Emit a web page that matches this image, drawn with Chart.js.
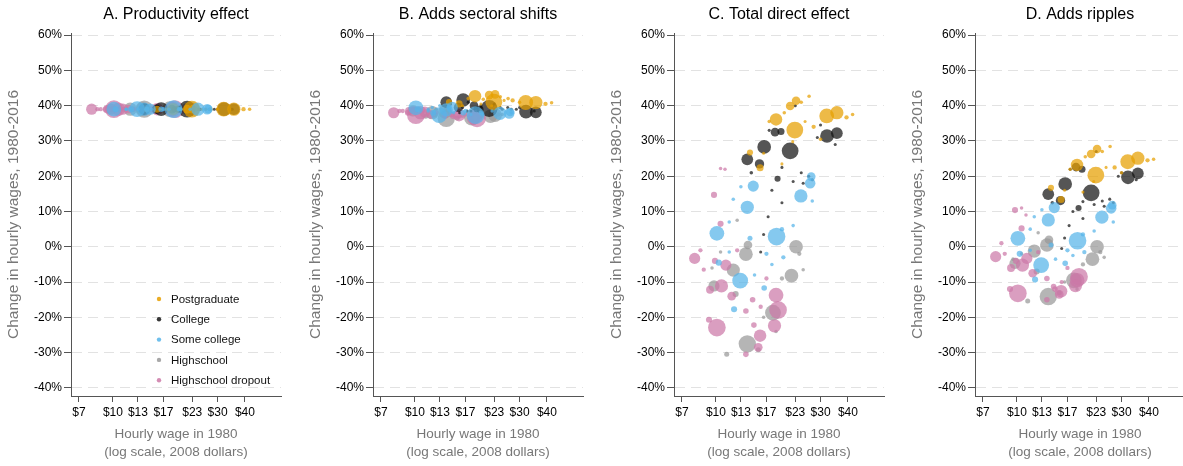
<!DOCTYPE html>
<html>
<head>
<meta charset="utf-8">
<title>Wage changes by education and wage</title>
<script src="https://cdn.jsdelivr.net/npm/chart.js@4.4.0/dist/chart.umd.min.js"></script>
<style>
  html, body { margin: 0; padding: 0; background: #fff; overflow: hidden; }
  #wrap { position: relative; width: 1183px; height: 466px; overflow: hidden; }
  .panel { position: absolute; top: 0; width: 302px; height: 466px; }
</style>
</head>
<body>
<div id="wrap">
  <div class="panel" style="left:0px"><canvas id="panelA" width="302" height="466"></canvas></div>
  <div class="panel" style="left:302px"><canvas id="panelB" width="302" height="466"></canvas></div>
  <div class="panel" style="left:603px"><canvas id="panelC" width="302" height="466"></canvas></div>
  <div class="panel" style="left:904px"><canvas id="panelD" width="302" height="466"></canvas></div>
</div>
<script>
// axis ticks
var wageTicks = [7, 10, 13, 17, 23, 30, 40];
var pctTicks = [-40, -30, -20, -10, 0, 10, 20, 30, 40, 50, 60];

var panelTitles = ["A. Productivity effect", "B. Adds sectoral shifts", "C. Total direct effect", "D. Adds ripples"];

// Postgraduate
var postWage = [22.9, 18.8, 21.8, 23.2, 32.0, 35.6, 39.4, 26.6, 15.9, 14.3, 27.9, 24.5, 20.5, 22.4, 17.5, 30.0, 42.0, 25.5, 16.5, 20.0];
var postEmp  = [45, 25, 12, 12, 35, 28, 3, 2, 8, 6, 3, 2, 2, 1.5, 2, 2, 2, 1.5, 1.5, 1.5];
var postA = [39, 39, 39, 39, 39, 39, 39, 39, 39, 39, 39, 39, 39, 39, 39, 39, 39, 39, 39, 39];
var postB = [41.0, 42.7, 43.0, 43.2, 40.9, 40.9, 40.5, 42.0, 40.5, 41.0, 41.5, 42.5, 41.8, 40.0, 42.0, 41.0, 40.8, 41.5, 40.0, 40.5];
var postC = [33.1, 36.1, 39.9, 41.4, 37.1, 38.0, 36.7, 42.7, 22.4, 26.7, 34.0, 41.0, 38.0, 29.8, 35.5, 30.5, 37.5, 35.5, 26.5, 23.5];
var postD = [20.3, 23.2, 26.3, 27.7, 24.1, 25.1, 24.5, 28.4, 13.4, 16.7, 22.5, 27.0, 25.5, 18.5, 22.0, 21.0, 24.8, 22.5, 16.0, 15.5];

// College
var collWage = [21.8, 16.6, 13.9, 15.8, 18.6, 19.8, 32.1, 35.6, 19.1, 14.5, 20.0, 24.5, 22.5, 25.0, 26.5, 27.5, 17.5, 23.0, 18.0, 20.0, 17.3, 16.5, 16.0, 29.0, 35.0, 30.0];
var collEmp  = [45, 30, 22, 14, 12, 8, 30, 22, 6, 2, 1.5, 1.5, 1.5, 1.5, 1.5, 1.5, 1.5, 1.5, 1.5, 1.5, 1.5, 1.5, 1.5, 1.5, 1.5, 1.5];
var collA = [39, 39, 39, 39, 39, 39, 39, 39, 39, 39, 39, 39, 39, 39, 39, 39, 39, 39, 39, 39, 39, 39, 39, 39, 39, 39];
var collB = [39.2, 41.6, 41.0, 39.5, 40.0, 39.0, 38.3, 38.1, 39.0, 40.5, 40.0, 39.5, 40.0, 39.0, 39.5, 39.0, 41.0, 40.5, 38.5, 39.5, 38.5, 39.5, 38.0, 39.0, 38.5, 39.5];
var collC = [27.2, 28.3, 24.8, 23.5, 32.5, 32.7, 31.4, 32.2, 19.3, 21.0, 22.5, 21.0, 18.5, 18.0, 20.0, 19.0, 33.0, 40.0, 16.0, 12.5, 8.5, 3.5, -1.5, 31.0, 29.0, 34.5];
var collD = [15.3, 17.8, 14.9, 13.1, 22.6, 22.0, 19.7, 20.8, 11.0, 12.5, 12.8, 13.0, 12.0, 11.5, 13.5, 12.5, 22.0, 27.0, 10.0, 8.0, 6.0, 2.5, -0.5, 20.0, 19.0, 21.0];

// Some college
var someWage = [18.9, 10.1, 13.9, 14.8, 24.4, 26.9, 27.2, 12.9, 10.3, 12.1, 14.3, 16.6, 17.0, 20.3, 20.0, 22.5, 12.0, 13.0, 27.5, 11.5, 15.0, 18.0, 11.5];
var someEmp  = [50, 35, 28, 20, 28, 18, 12, 40, 6, 6, 4, 5, 3, 3, 3, 2, 2, 2, 2, 2, 2, 2, 2];
var someA = [39, 39, 39, 39, 39, 39, 39, 39, 39, 39, 39, 39, 39, 39, 39, 39, 39, 39, 39, 39, 39, 39, 39];
var someB = [37.3, 39.4, 38.8, 39.5, 37.8, 37.8, 38.2, 37.3, 39.0, 38.0, 39.5, 38.0, 38.5, 37.5, 38.0, 38.5, 39.5, 40.0, 38.0, 39.0, 38.0, 37.5, 38.5];
var someC = [2.9, 3.8, 11.2, 17.2, 14.4, 18.0, 19.9, -9.6, -4.5, -17.7, 2.4, -11.7, -2.0, -3.0, 5.0, 6.0, 13.5, 17.0, 13.0, 7.0, -8.0, -5.0, -1.5];
var someD = [1.7, 2.4, 7.6, 11.1, 8.4, 10.9, 11.8, -5.2, -2.0, -9.3, 0.5, -4.7, -1.0, -1.5, 3.5, 4.5, 8.5, 10.5, 7.0, 5.0, -3.5, -2.5, -1.0];

// Highschool
var highWage = [13.9, 18.2, 23.2, 22.1, 13.7, 12.0, 9.8, 12.3, 11.2, 15.6, 14.0, 24.0, 20.0, 10.5, 12.5, 16.5, 18.8, 9.6, 25.0];
var highEmp  = [48, 40, 30, 30, 30, 28, 20, 6, 4, 4, 12, 3, 3, 2, 2, 2, 2, 2, 2];
var highA = [39, 39, 39, 39, 39, 39, 39, 39, 39, 39, 39, 39, 39, 39, 39, 39, 39, 39, 39];
var highB = [36.4, 36.6, 37.3, 37.0, 38.3, 38.0, 38.5, 37.5, 37.0, 36.5, 38.5, 37.5, 37.0, 38.5, 39.0, 37.0, 36.5, 38.5, 37.5];
var highC = [-27.5, -18.7, 0.0, -8.2, -2.1, -6.6, -11.1, -13.4, -30.5, -29.2, 0.5, -2.0, -9.0, -1.5, 7.5, -20.0, -24.0, -6.0, -6.5];
var highD = [-14.1, -9.5, 0.0, -3.5, 0.5, -1.2, -4.7, -7.0, -15.4, -13.0, 2.0, -1.5, -5.0, -2.0, 4.0, -10.0, -12.0, -3.5, -3.0];

// Highschool dropout
var dropWage = [10.1, 19.2, 18.8, 18.5, 15.9, 15.6, 10.6, 8.0, 11.1, 10.5, 9.8, 9.4, 13.7, 14.7, 13.7, 14.9, 9.3, 8.5, 8.8, 10.5, 11.0, 17.0, 12.5, 16.0, 11.8, 9.9];
var dropEmp  = [50, 50, 35, 28, 25, 12, 28, 20, 20, 6, 6, 10, 5, 5, 5, 5, 6, 3, 3, 2, 2, 3, 3, 3, 12, 6];
var dropA = [39, 39, 39, 39, 39, 39, 39, 39, 39, 39, 39, 39, 39, 39, 39, 39, 39, 39, 39, 39, 39, 39, 39, 39, 39, 39];
var dropB = [37.3, 36.4, 37.0, 36.5, 37.3, 37.5, 38.0, 38.0, 38.2, 38.5, 39.0, 38.5, 37.0, 37.5, 37.5, 37.0, 38.0, 38.5, 38.5, 39.0, 38.5, 37.5, 38.0, 37.0, 37.5, 38.5];
var dropC = [-22.9, -17.9, -13.7, -22.4, -25.2, -28.5, -11.1, -3.3, -5.2, 6.5, 14.7, -12.2, -30.5, -15.0, -18.2, -22.2, -20.7, -1.0, -6.5, 22.2, 22.0, -9.0, -1.0, -17.0, -14.0, -4.0];
var dropD = [-13.2, -8.5, -9.5, -11.0, -12.6, -13.5, -5.2, -2.8, -3.3, 5.2, 10.4, -6.0, -15.0, -11.3, -9.0, -12.0, -12.0, 1.0, -2.0, 11.0, 9.0, -6.0, -1.5, -10.0, -7.5, -4.0];

var groups = [
    { label: "Postgraduate", color: "230,159,0", wage: postWage, emp: postEmp, ys: [postA, postB, postC, postD], order: 1 },
    { label: "College", color: "20,20,20", wage: collWage, emp: collEmp, ys: [collA, collB, collC, collD], order: 2 },
    { label: "Some college", color: "86,180,233", wage: someWage, emp: someEmp, ys: [someA, someB, someC, someD], order: 0 },
    { label: "Highschool", color: "153,153,153", wage: highWage, emp: highEmp, ys: [highA, highB, highC, highD], order: 4 },
    { label: "Highschool dropout", color: "204,121,167", wage: dropWage, emp: dropEmp, ys: [dropA, dropB, dropC, dropD], order: 3 }
];

var fontFamily = "'Liberation Sans', Arial, Helvetica, sans-serif";
Chart.defaults.font.family = fontFamily;

var panelTitle = {
    id: "panelTitle",
    afterDraw: function (chart, args, opts) {
        var ctx = chart.ctx;
        var area = chart.chartArea;
        ctx.save();
        ctx.font = "16px " + fontFamily;
        ctx.fillStyle = "#000";
        ctx.textAlign = "center";
        ctx.textBaseline = "middle";
        ctx.fillText(opts.text, (area.left + area.right) / 2, 15);
        ctx.restore();
    }
};

var groupLegend = {
    id: "groupLegend",
    afterDraw: function (chart, args, opts) {
        if (!opts.show) return;
        var ctx = chart.ctx;
        ctx.save();
        ctx.font = "11.5px " + fontFamily;
        ctx.textAlign = "left";
        ctx.textBaseline = "middle";
        groups.forEach(function (g, i) {
            var y = opts.top + i * opts.step;
            ctx.beginPath();
            ctx.arc(opts.x, y, 2.2, 0, 2 * Math.PI);
            ctx.fillStyle = "rgba(" + g.color + ",0.85)";
            ctx.fill();
            ctx.fillStyle = "#111";
            ctx.fillText(g.label, opts.x + 12, y + 0.5);
        });
        ctx.restore();
    }
};

function bubbleChart(canvasId, panel) {
    var datasets = groups.map(function (g) {
        return {
            label: g.label,
            order: g.order,
            data: g.wage.map(function (w, i) {
                return { x: w, y: g.ys[panel][i], r: 1.25 * Math.sqrt(g.emp[i]) };
            }),
            backgroundColor: "rgba(" + g.color + ",0.72)",
            borderWidth: 0
        };
    });

    return new Chart(document.getElementById(canvasId).getContext("2d"), {
        type: "bubble",
        data: { datasets: datasets },
        plugins: [panelTitle, groupLegend],
        options: {
            responsive: false,
            animation: false,
            layout: { padding: { top: 33, right: 21, bottom: 0, left: 0 } },
            plugins: {
                legend: { display: false },
                tooltip: { enabled: false },
                panelTitle: { text: panelTitles[panel] },
                groupLegend: { show: panel === 0, x: 159, top: 299, step: 20.3 }
            },
            scales: {
                x: {
                    type: "logarithmic",
                    min: 6.44,
                    max: 58.4,
                    afterBuildTicks: function (scale) {
                        scale.ticks = wageTicks.map(function (v) { return { value: v }; });
                    },
                    afterFit: function (scale) { scale.height = 70; },
                    ticks: {
                        callback: function (v) { return "$" + v; },
                        color: "#000",
                        font: { size: 12 },
                        padding: 3,
                        maxRotation: 0,
                        autoSkip: false
                    },
                    grid: { drawOnChartArea: false, drawTicks: true, tickLength: 6, tickColor: "#555" },
                    border: { color: "#555", width: 1 },
                    title: {
                        display: true,
                        text: ["Hourly wage in 1980", "(log scale, 2008 dollars)"],
                        color: "#777",
                        font: { size: 13.5, lineHeight: 1.33 },
                        padding: { top: 0, bottom: 5 }
                    }
                },
                y: {
                    min: -42.3,
                    max: 60.6,
                    afterBuildTicks: function (scale) {
                        scale.ticks = pctTicks.map(function (v) { return { value: v }; });
                    },
                    afterFit: function (scale) { scale.width = 71; },
                    ticks: {
                        callback: function (v) { return v + "%"; },
                        color: "#000",
                        font: { size: 12 },
                        padding: 2
                    },
                    grid: { color: "#e2e2e2", drawTicks: true, tickLength: 7, tickColor: "#555" },
                    border: { color: "#555", width: 1, dash: [10, 6] },
                    title: {
                        display: true,
                        text: "Change in hourly wages, 1980-2016",
                        color: "#777",
                        font: { size: 15.5, lineHeight: 1.2 },
                        padding: { top: 4, bottom: 0 }
                    }
                }
            }
        }
    });
}

bubbleChart("panelA", 0);
bubbleChart("panelB", 1);
bubbleChart("panelC", 2);
bubbleChart("panelD", 3);
</script>
</body>
</html>
